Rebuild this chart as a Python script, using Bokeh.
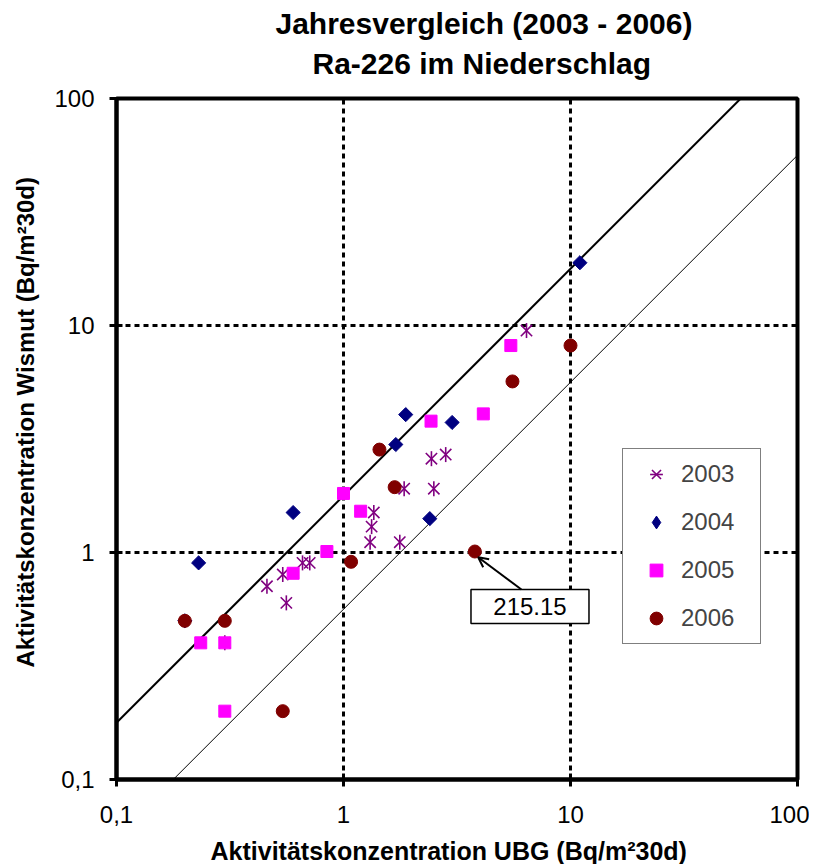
import numpy as np
from bokeh.plotting import figure
from bokeh.models import (Range1d, FixedTicker, CustomJSTickFormatter, Legend,
                          LegendItem, Title, Arrow, OpenHead, LogScale)
from bokeh.embed import file_html
from bokeh.resources import INLINE
from bokeh.core.properties import value

# ---- data (UBG = x, Wismut = y) ----
x2003 = [0.30, 0.46, 0.54, 0.56, 0.66, 0.71, 1.36, 1.33, 1.31, 1.77, 1.85, 2.50, 2.44, 2.82, 6.40]
y2003 = [0.40, 0.71, 0.80, 0.60, 0.90, 0.90, 1.50, 1.30, 1.11, 1.11, 1.91, 1.91, 2.59, 2.70, 9.50]

x2004 = [0.20, 0.23, 0.60, 1.70, 1.88, 2.40, 3.01, 11.0]
y2004 = [0.50, 0.90, 1.50, 2.99, 4.05, 1.41, 3.74, 18.9]

x2005 = [0.235, 0.30, 0.30, 0.60, 0.845, 1.00, 1.19, 2.43, 4.13, 5.46]
y2005 = [0.40, 0.40, 0.20, 0.81, 1.01, 1.82, 1.52, 3.79, 4.08, 8.16]

x2006 = [0.20, 0.30, 0.54, 1.08, 1.44, 1.68, 3.79, 5.55, 10.0]
y2006 = [0.50, 0.50, 0.20, 0.91, 2.84, 1.94, 1.01, 5.67, 8.16]

years = ["2003", "2004", "2005", "2006"]
tick_values = [0.1, 1, 10, 100]
tick_labels = ["0,1", "1", "10", "100"]
grid_values = [1, 10]

line_x = [0.1, 100]
upper_factor = 10 ** 0.25
lower_factor = 10 ** -0.25

annot_text = "215.15"
annot_point = (3.92, 0.953)      # arrow tip, near the point (3.79, 1.01)
annot_box = (6.63, 0.578)        # centre of the text box
annot_start = (6.08, 0.687)      # arrow tail on box top

title1 = "Jahresvergleich (2003 - 2006)"
title2 = "Ra-226 im Niederschlag"
xlabel = "Aktivitätskonzentration UBG (Bq/m²30d)"
ylabel = "Aktivitätskonzentration Wismut (Bq/m²30d)"

FONT = "Liberation Sans"
C2003, C2004, C2005, C2006 = "#800080", "#000080", "#FF00FF", "#800000"

p = figure(x_axis_type="log", y_axis_type="log",
           x_range=Range1d(0.1, 100), y_range=Range1d(0.1, 100),
           frame_width=681, frame_height=681,
           min_border_left=115, min_border_right=12,
           min_border_top=98, min_border_bottom=60,
           output_backend="svg", toolbar_location=None)
p.background_fill_color = "white"
p.border_fill_color = "white"
p.outline_line_color = "black"
p.outline_line_width = 4
# an off-screen range, used only for the legend sample of the diamonds
p.extra_y_ranges = {"legend_only": Range1d(1e4, 1e5)}
p.extra_y_scales = {"legend_only": LogScale()}

fmt = CustomJSTickFormatter(args=dict(vals=tick_values, labs=tick_labels), code="""
for (let i = 0; i < vals.length; i++) {
  if (Math.abs(Math.log10(tick) - Math.log10(vals[i])) < 1e-6) return labs[i];
}
return String(tick);
""")

for ax in (p.xaxis[0], p.yaxis[0]):
    ax.ticker = FixedTicker(ticks=tick_values)
    ax.formatter = fmt
    ax.axis_line_width = 4
    ax.axis_line_color = "black"
    ax.major_tick_line_width = 3
    ax.major_tick_line_color = "black"
    ax.major_tick_in = 6
    ax.major_tick_out = 7
    ax.minor_tick_line_color = None
    ax.major_label_text_font = FONT
    ax.major_label_text_font_size = "24px"
    ax.major_label_text_color = "black"
p.xaxis[0].major_label_standoff = 19
p.yaxis[0].major_label_standoff = 15

for g in (p.xgrid[0], p.ygrid[0]):
    g.ticker = FixedTicker(ticks=grid_values)
    g.grid_line_color = "black"
    g.grid_line_width = 3
    g.grid_line_dash = "5 4"

# reference lines
p.line(line_x, [upper_factor * v for v in line_x], line_color="black", line_width=2)
p.line(line_x, [lower_factor * v for v in line_x], line_color="black", line_width=1)

# series
r03a = p.scatter(x2003, y2003, marker="x", size=16, line_color=C2003, line_width=1.6)
r03b = p.scatter(x2003, y2003, marker="dash", angle=np.pi / 2, size=15, line_color=C2003, line_width=1.6)
r04 = p.scatter(x2004, y2004, marker="square", angle=np.pi / 4, size=10,
                fill_color=C2004, line_color=C2004)
r05 = p.scatter(x2005, y2005, marker="square", size=12, fill_color=C2005, line_color=C2005)
r06 = p.scatter(x2006, y2006, marker="circle", size=13, fill_color=C2006, line_color=C2006)
# legend sample for the diamonds (legend glyphs are drawn unrotated)
r04_leg = p.scatter(x2004, y2004, marker="diamond", size=13, fill_color=C2004,
                    line_color=C2004, y_range_name="legend_only")

legend = Legend(items=[LegendItem(label=years[0], renderers=[r03a, r03b]),
                       LegendItem(label=years[1], renderers=[r04_leg]),
                       LegendItem(label=years[2], renderers=[r05]),
                       LegendItem(label=years[3], renderers=[r06])],
                location=(506, 135))
legend.label_text_font = FONT
legend.label_text_font_size = "24px"
legend.glyph_width = 48
legend.glyph_height = 32
legend.label_height = 32
legend.label_width = 70
legend.label_standoff = 1
legend.spacing = 16
legend.padding = 9
legend.margin = 0
legend.border_line_color = "black"
legend.border_line_width = 1
legend.background_fill_alpha = 1
p.add_layout(legend)

# annotation
p.add_layout(Arrow(x_start=annot_start[0], y_start=annot_start[1],
                   x_end=annot_point[0], y_end=annot_point[1],
                   line_width=2, line_color="black",
                   end=OpenHead(size=10, line_width=2, line_color="black")))
p.rect(x=[annot_box[0]], y=[annot_box[1]], width=118, height=34,
       width_units="screen", height_units="screen",
       fill_color="white", line_color="black", line_width=1.5)
p.text(x=[annot_box[0]], y=[annot_box[1]], text=[annot_text], text_align="center",
       text_baseline="middle", text_font=value(FONT), text_font_size="24px", text_color="black")

# two-line title, stacked outward from the frame: spacer, line 2, line 1
p.add_layout(Title(text=" ", text_font_size="1px", standoff=11), "above")
p.add_layout(Title(text=title2, align="left", offset=196, standoff=10, text_font=FONT,
                   text_font_size="30px", text_font_style="bold", text_color="black"), "above")
p.add_layout(Title(text=title1, align="left", offset=159, standoff=0, text_font=FONT,
                   text_font_size="30px", text_font_style="bold", text_color="black"), "above")

# axis titles
p.add_layout(Title(text=" ", text_font_size="1px", standoff=6), "below")
p.add_layout(Title(text=xlabel, align="left", offset=94, standoff=0, text_font=FONT,
                   text_font_size="25px", text_font_style="bold", text_color="black"), "below")
p.add_layout(Title(text=ylabel, align="left", offset=112, standoff=22, vertical_align="top",
                   text_font=FONT, text_font_size="24px", text_font_style="bold",
                   text_color="black"), "left")

open("out.html", "w").write(file_html(p, INLINE))
